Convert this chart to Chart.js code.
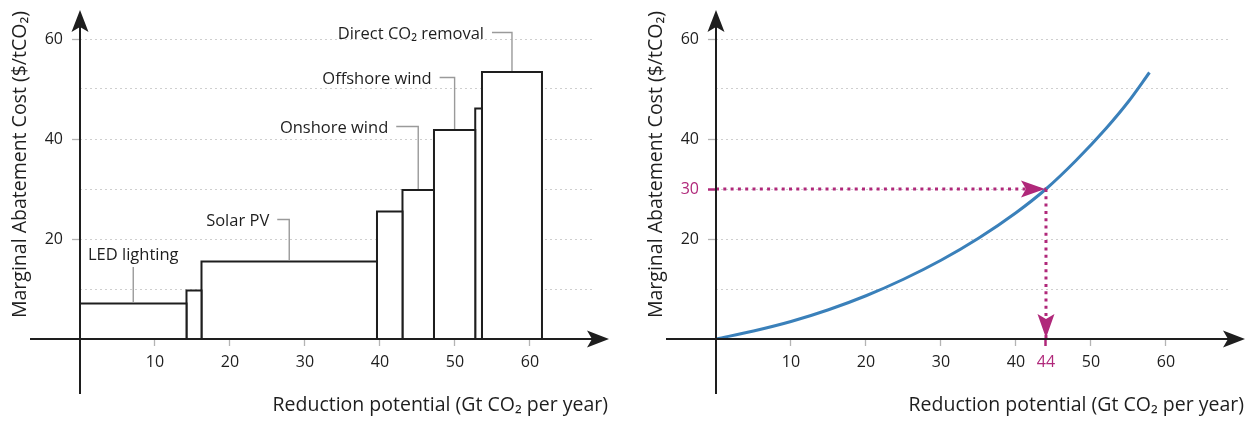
<!DOCTYPE html>
<html><head><meta charset="utf-8">
<script src="https://cdn.jsdelivr.net/npm/chart.js@4.4.1/dist/chart.umd.min.js"></script>
<style>
html,body{margin:0;padding:0;background:#fff;}
#wrap{position:relative;width:1255px;height:421px;overflow:hidden;background:#fff;}
canvas{position:absolute;top:0;}
#c1{left:0;} #c2{left:636px;}
</style></head><body>
<div id="wrap"><canvas id="c1" width="627" height="421"></canvas><canvas id="c2" width="619" height="421"></canvas></div>
<script>
// ---------- data (left: marginal abatement cost curve) ----------
const leverNames  = ['LED lighting', '', 'Solar PV', '', 'Onshore wind', 'Offshore wind', '', 'Direct CO\u2082 removal'];
const leverWidths = [14.2, 2.0, 23.4, 3.4, 4.2, 5.5, 0.9, 8.0];   // Gt CO2 per year
const leverCosts  = [7.1, 9.7, 15.5, 25.5, 29.8, 41.8, 46.1, 53.4]; // $/tCO2

// ---------- data (right: smooth MAC curve) ----------
const curveX = [0, 5, 10, 15, 20, 25, 30, 35, 40, 44, 48, 52, 55, 57.8];
const curveY = [0, 1.6, 3.5, 5.85, 8.65, 11.95, 15.75, 20.15, 25.25, 30.0, 35.7, 42.1, 47.5, 53.3];
const targetCost = 30;
const targetPotential = 44;

// ---------- ticks ----------
const xTickValues = [10, 20, 30, 40, 50, 60];
const yGridValues = [10, 20, 30, 40, 50, 60];
const yLabelValues = [20, 40, 60];

const xTitle = 'Reduction potential (Gt CO\u2082 per year)';
const yTitle = 'Marginal Abatement Cost ($/tCO\u2082)';

// ---------- annotation layout (positions of leader labels, not data) ----------
const labelStyle = ['above', null, 'left', null, 'left', 'left', null, 'left'];
const labelLevel = [14.4, null, 23.9, null, 42.5, 52.3, null, 61.3];
const labelStub  = [0, null, 12, null, 22, 15, null, 20];

// ---------- styles ----------
const FONT = "'Open Sans', 'Noto Sans', 'DejaVu Sans', sans-serif";
const INK = '#1e1e1e';
const GRID = '#cfcfcf';
const TICKC = '#b4b4b4';
const MAGENTA = '#b0287a';
const BLUE = '#3a80ba';
const LEADER = '#9a9a9a';

function arrowHead(ctx, tx, ty, angle, L, W, notch, color) {
  ctx.save();
  ctx.translate(tx, ty);
  ctx.rotate(angle);
  ctx.beginPath();
  ctx.moveTo(0, 0);
  ctx.lineTo(-L, W);
  ctx.lineTo(-L + notch, 0);
  ctx.lineTo(-L, -W);
  ctx.closePath();
  ctx.fillStyle = color;
  ctx.fill();
  ctx.restore();
}

function drawAxesAndTitles(chart) {
  const ctx = chart.ctx;
  const xs = chart.scales.x, ys = chart.scales.y;
  const x0 = xs.getPixelForValue(0), y0 = ys.getPixelForValue(0);
  ctx.save();
  ctx.strokeStyle = INK;
  ctx.lineWidth = 2;
  ctx.beginPath();
  ctx.moveTo(x0, 394); ctx.lineTo(x0, 26);
  ctx.moveTo(30, y0); ctx.lineTo(593, y0);
  ctx.stroke();
  arrowHead(ctx, x0, 10, -Math.PI / 2, 22, 8.5, 5, INK);
  arrowHead(ctx, 609, y0, 0, 22, 8.5, 5, INK);
  ctx.fillStyle = INK;
  ctx.font = '19.5px ' + FONT;
  ctx.textAlign = 'right';
  ctx.textBaseline = 'alphabetic';
  ctx.fillText(xTitle, 608, 411);
  ctx.translate(26, 318);
  ctx.rotate(-Math.PI / 2);
  ctx.textAlign = 'left';
  ctx.fillText(yTitle, 0, 0);
  ctx.restore();
}

function scalesFor(xTicks, yLabels, hx, hy) {
  return {
    x: {
      type: 'linear', min: 0, max: 68.27, position: 'bottom',
      afterBuildTicks: s => { s.ticks = xTicks.map(v => ({ value: v })); },
      afterFit: s => { s.height = 82; },
      grid: {
        drawOnChartArea: false, drawTicks: true, tickLength: 7,
        tickColor: c => (c.tick && c.tick.value === hx) ? MAGENTA : TICKC,
        tickWidth: c => (c.tick && c.tick.value === hx) ? 2.5 : 1.3
      },
      border: { display: false },
      ticks: {
        autoSkip: false, maxRotation: 0, padding: 7,
        color: c => (c.tick && c.tick.value === hx) ? MAGENTA : INK,
        font: { family: FONT, size: 16 },
        callback: v => String(v)
      }
    },
    y: {
      type: 'linear', min: 0, max: 60,
      afterBuildTicks: s => { s.ticks = yGridValues.map(v => ({ value: v })); },
      afterFit: s => { s.width = 80; },
      grid: {
        color: GRID, lineWidth: 1, drawTicks: true, tickLength: 8,
        tickColor: c => {
          if (!c.tick) return 'rgba(0,0,0,0)';
          if (c.tick.value === hy) return MAGENTA;
          return yLabels.includes(c.tick.value) ? TICKC : 'rgba(0,0,0,0)';
        },
        tickWidth: c => (c.tick && c.tick.value === hy) ? 2.5 : 1.3,
        tickBorderDash: []
      },
      border: { display: false, dash: [2, 3] },
      ticks: {
        autoSkip: false, padding: 9,
        color: c => (c.tick && c.tick.value === hy) ? MAGENTA : INK,
        font: { family: FONT, size: 16 },
        callback: v => (yLabels.includes(v) || v === hy) ? String(v) : ''
      }
    }
  };
}

const commonOpts = {
  responsive: false, animation: false, devicePixelRatio: 1,
  layout: { padding: { top: 39, right: 35, left: 0, bottom: 0 } },
  plugins: { legend: { display: false }, tooltip: { enabled: false } }
};

// ---------- left chart ----------
const barDatasets = [];
let start = 0;
leverWidths.forEach((w, i) => {
  const end = start + w;
  const h = leverCosts[i];
  barDatasets.push({
    data: [{ x: start, y: 0 }, { x: start, y: h }, { x: end, y: h }, { x: end, y: 0 }],
    showLine: true, fill: 'origin', backgroundColor: '#ffffff',
    borderColor: INK, borderWidth: 2, pointRadius: 0, tension: 0,
    borderJoinStyle: 'miter'
  });
  start = end;
});

const leftPlugin = {
  id: 'leftDecor',
  afterDatasetsDraw(chart) {
    const ctx = chart.ctx;
    const xs = chart.scales.x, ys = chart.scales.y;
    drawAxesAndTitles(chart);
    ctx.save();
    ctx.font = '16.5px ' + FONT;
    ctx.fillStyle = INK;
    ctx.strokeStyle = LEADER;
    ctx.lineWidth = 1.4;
    let s = 0;
    leverWidths.forEach((w, i) => {
      const e = s + w;
      if (labelStyle[i]) {
        const cx = xs.getPixelForValue((s + e) / 2);
        const topY = ys.getPixelForValue(leverCosts[i]);
        const ly = ys.getPixelForValue(labelLevel[i]);
        if (labelStyle[i] === 'above') {
          ctx.beginPath(); ctx.moveTo(cx, ly); ctx.lineTo(cx, topY - 1); ctx.stroke();
          ctx.textAlign = 'center'; ctx.textBaseline = 'alphabetic';
          ctx.fillText(leverNames[i], cx, ly - 7);
        } else {
          const sx = cx - labelStub[i];
          ctx.beginPath(); ctx.moveTo(sx, ly); ctx.lineTo(cx, ly); ctx.lineTo(cx, topY - 1); ctx.stroke();
          ctx.textAlign = 'right'; ctx.textBaseline = 'alphabetic';
          ctx.fillText(leverNames[i], sx - 8, ly + 6);
        }
      }
      s = e;
    });
    ctx.restore();
  }
};

new Chart(document.getElementById('c1'), {
  type: 'scatter',
  data: { datasets: barDatasets },
  options: Object.assign({}, commonOpts, { scales: scalesFor(xTickValues, yLabelValues, null, null) }),
  plugins: [leftPlugin]
});

// ---------- right chart ----------
const rightPlugin = {
  id: 'rightDecor',
  afterDatasetsDraw(chart) {
    const ctx = chart.ctx;
    const xs = chart.scales.x, ys = chart.scales.y;
    drawAxesAndTitles(chart);
    const px = xs.getPixelForValue(targetPotential);
    const py = ys.getPixelForValue(targetCost);
    arrowHead(ctx, px - 1, py, 0, 24, 8.5, 5, MAGENTA);
    arrowHead(ctx, px, ys.getPixelForValue(0) - 1, Math.PI / 2, 24, 8.5, 5, MAGENTA);
  }
};

const curvePoints = curveX.map((x, i) => ({ x: x, y: curveY[i] }));
new Chart(document.getElementById('c2'), {
  type: 'scatter',
  data: {
    datasets: [
      { data: [{ x: 0, y: targetCost }, { x: targetPotential, y: targetCost }],
        showLine: true, borderColor: MAGENTA, borderWidth: 3, borderDash: [3, 4.3],
        borderCapStyle: 'butt', pointRadius: 0, fill: false },
      { data: [{ x: targetPotential, y: targetCost }, { x: targetPotential, y: 0 }],
        showLine: true, borderColor: MAGENTA, borderWidth: 3, borderDash: [3, 4.3],
        borderCapStyle: 'butt', pointRadius: 0, fill: false },
      { data: curvePoints, showLine: true, borderColor: BLUE, borderWidth: 3,
        pointRadius: 0, fill: false, cubicInterpolationMode: 'monotone' }
    ]
  },
  options: Object.assign({}, commonOpts, {
    layout: { padding: { top: 39, right: 27, left: 0, bottom: 0 } },
    scales: scalesFor(xTickValues.concat([targetPotential]).sort((a, b) => a - b), yLabelValues, targetPotential, targetCost)
  }),
  plugins: [rightPlugin]
});
</script>
</body></html>
